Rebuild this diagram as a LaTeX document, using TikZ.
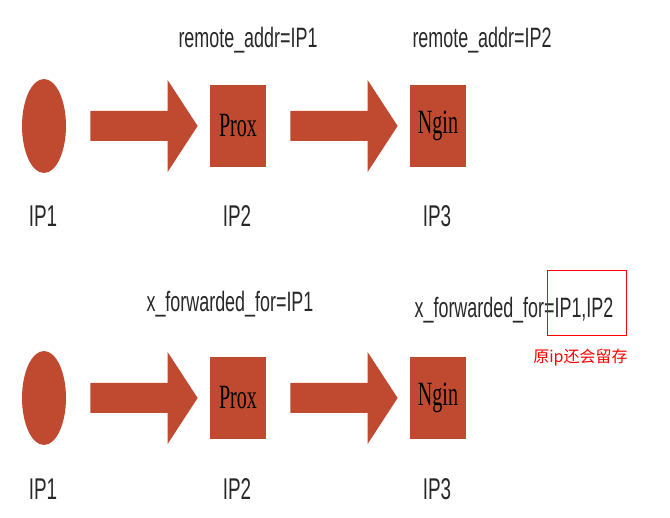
\documentclass[tikz,border=0pt]{standalone}
\usepackage{fontspec}
\setmainfont{Liberation Serif}
\setsansfont{Liberation Sans}
\newfontfamily\cjk{Noto Sans CJK SC}
\usetikzlibrary{shapes.geometric,calc,positioning}
\definecolor{brick}{RGB}{192,74,48}
\definecolor{inkgray}{RGB}{40,40,40}
\tikzset{
  host/.style={ellipse, fill=brick, inner sep=0pt, minimum width=22pt, minimum height=47pt},
  server/.style={rectangle, fill=brick, inner sep=0pt, minimum width=28pt, minimum height=41pt, font=\fontsize{17}{17}\selectfont},
  headtext/.style={font=\sffamily\fontsize{14}{15}\selectfont, text=inkgray, xscale=0.64, inner sep=0pt},
  iptext/.style={font=\sffamily\fontsize{15}{16}\selectfont, text=inkgray, xscale=0.63, inner sep=0pt},
  notebox/.style={draw=red, line width=0.5pt, inner sep=0pt, minimum width=39.5pt, minimum height=32.5pt},
  notetext/.style={font=\cjk\fontsize{8}{8.5}\selectfont, text=red, inner sep=0pt}
}
\newcommand\narrow[1]{\scalebox{0.59}[1]{#1}}
% block arrow from the east side of #1 to the west side of #2
\newcommand\blockarrow[2]{%
  \fill[brick] ($(#1.east)+(24,-15)$) -- ($(#2.west)+(-42,-15)$) -- ($(#2.west)+(-42,-46)$)
    -- ($(#2.west)+(-12,0)$) -- ($(#2.west)+(-42,46)$) -- ($(#2.west)+(-42,15)$)
    -- ($(#1.east)+(24,15)$) -- cycle;}
\begin{document}
\begin{tikzpicture}[x=0.5pt,y=-0.5pt]
\useasboundingbox[fill=white] (0,0) rectangle (670,518);
% upper row: remote_addr
\node[host] (client1) at (44,126) {};
\node[server] (prox1) at (238,126) {\narrow{Prox}};
\node[server] (ngin1) at (438,126) {\narrow{Ngin}};
\blockarrow{client1}{prox1}
\blockarrow{prox1}{ngin1}
\node[headtext] (remote1) at (248,40) {remote\_addr=IP1};
\node[headtext] (remote2) at (482,40) {remote\_addr=IP2};
\node[iptext] (ipa1) at (43,216) {IP1};
\node[iptext] (ipa2) at (237,216) {IP2};
\node[iptext] (ipa3) at (437,216) {IP3};
% lower row: x_forwarded_for
\node[host] (client2) at (44,398) {};
\node[server] (prox2) at (238,398) {\narrow{Prox}};
\node[server] (ngin2) at (438,398) {\narrow{Ngin}};
\blockarrow{client2}{prox2}
\blockarrow{prox2}{ngin2}
\node[headtext] (xff1) at (230,304) {x\_forwarded\_for=IP1};
\node[headtext] (xff2) at (514,310) {x\_forwarded\_for=IP1,IP2};
\node[iptext] (ipb1) at (43,489) {IP1};
\node[iptext] (ipb2) at (237,489) {IP2};
\node[iptext] (ipb3) at (437,489) {IP3};
\node[notebox] (keep) at (586.5,303.5) {};
\node[notetext, below=6pt of keep, xshift=-3pt] (keepnote) {原ip还会留存};
\end{tikzpicture}
\end{document}
